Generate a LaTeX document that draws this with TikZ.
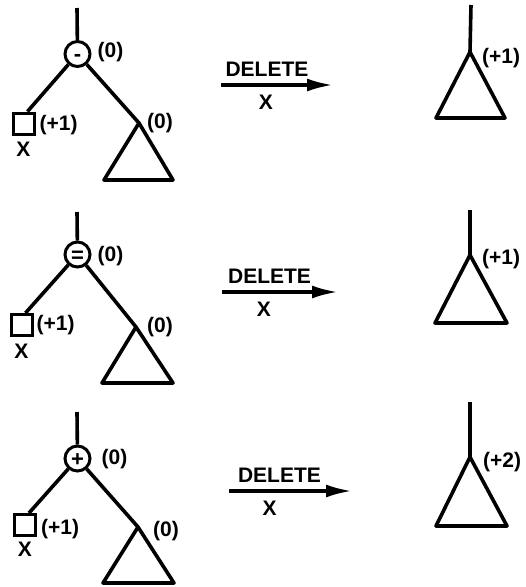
\documentclass[tikz,border=0pt]{standalone}
\usepackage{fontspec}
\setmainfont{Liberation Sans}
\usepackage{tikz}
\usetikzlibrary{positioning, arrows.meta}

\begin{document}
\begin{tikzpicture}[
    x=1pt, y=-1pt,
    node distance=4pt,
    edge/.style={line width=3.6pt},
    subtree/.style={line width=3.6pt, line join=round},
    balnode/.style={circle, draw, line width=3pt, minimum size=25pt, inner sep=0pt, text height=15.4pt, text depth=0pt, font=\fontsize{22}{22}\selectfont\bfseries},
    leaf/.style={rectangle, draw, line width=3pt, minimum size=21pt, inner sep=0pt},
    lbl/.style={inner sep=1pt, font=\fontsize{21}{23}\selectfont\bfseries},
    arrow/.style={line width=3.4pt, -{Latex[length=26pt, width=13pt]}}
]
\useasboundingbox (0,0) rectangle (526,587);

% Case 1: root leaning left
\coordinate (top1) at (77,8);
\node (r1) [balnode] at (77.5,54) {-};
\node (x1) [leaf] at (23.5,123.5) {};
\coordinate (t1) at (139,123);
\draw [edge] (top1) -- (r1);
\draw [edge] (r1) -- ([xshift=4pt]x1.north);
\draw [edge] (r1) -- (t1);
\draw [subtree] (t1) -- ++(-35,57) -- ++(69,0) -- cycle;
\node [lbl, right=5pt of r1, yshift=2pt] {(0)};
\node [lbl, right=3pt of x1, yshift=-2pt] {(+1)};
\node [lbl, below=5pt of x1] {X};
\node [lbl, right=7pt of t1] {(0)};
% after deleting
\coordinate (rtop1) at (471,5);
\coordinate (rt1) at (470,52);
\draw [edge] (rtop1) -- (rt1);
\draw [subtree] (rt1) -- ++(-34,66) -- ++(69,0) -- cycle;
\node [lbl, right=11pt of rt1, yshift=-6pt] {(+1)};
% Arrow
\coordinate (a1) at (221,85);
\coordinate (b1) at (333,85);
\draw [arrow] (a1) -- node [lbl, above=6pt, pos=0.41] {DELETE} node [lbl, below=7pt, pos=0.40] {X} (b1);

% Case 2: root balanced
\coordinate (top2) at (77,212);
\node (r2) [balnode] at (77.5,254.5) {=};
\node (x2) [leaf] at (21.5,325) {};
\coordinate (t2) at (136,327);
\draw [edge] (top2) -- (r2);
\draw [edge] (r2) -- ([xshift=4pt]x2.north);
\draw [edge] (r2) -- (t2);
\draw [subtree] (t2) -- ++(-34,56) -- ++(71,0) -- cycle;
\node [lbl, right=5pt of r2, yshift=-2pt] {(0)};
\node [lbl, right=2pt of x2] {(+1)};
\node [lbl, below=6pt of x2] {X};
\node [lbl, right=10pt of t2] {(0)};
% after deleting
\coordinate (rtop2) at (470,210);
\coordinate (rt2) at (470,255);
\draw [edge] (rtop2) -- (rt2);
\draw [subtree] (rt2) -- ++(-35,68) -- ++(72,0) -- cycle;
\node [lbl, right=11pt of rt2, yshift=-4pt] {(+1)};
% Arrow
\coordinate (a2) at (222,292);
\coordinate (b2) at (338,292);
\draw [arrow] (a2) -- node [lbl, above=6pt, pos=0.41] {DELETE} node [lbl, below=7pt, pos=0.36] {X} (b2);

% Case 3: root leaning right
\coordinate (top3) at (77,412);
\node (r3) [balnode] at (77.5,458.5) {+};
\node (x3) [leaf] at (25,525) {};
\coordinate (t3) at (138,527);
\draw [edge] (top3) -- (r3);
\draw [edge] (r3) -- ([xshift=4pt]x3.north);
\draw [edge] (r3) -- (t3);
\draw [subtree] (t3) -- ++(-35,56) -- ++(71,0) -- cycle;
\node [lbl, right=9pt of r3, yshift=-1pt] {(0)};
\node [lbl, right=3pt of x3, yshift=-4pt] {(+1)};
\node [lbl, below=4pt of x3] {X};
\node [lbl, right=14pt of t3, yshift=-4pt] {(0)};
% after deleting
\coordinate (rtop3) at (470,402);
\coordinate (rt3) at (470,457);
\draw [edge] (rtop3) -- (rt3);
\draw [subtree] (rt3) -- ++(-34,69) -- ++(71,0) -- cycle;
\node [lbl, right=12pt of rt3, yshift=-5pt] {(+2)};
% Arrow
\coordinate (a3) at (229,491);
\coordinate (b3) at (352,491);
\draw [arrow] (a3) -- node [lbl, above=6pt, pos=0.41] {DELETE} node [lbl, below=7pt, pos=0.33] {X} (b3);
\end{tikzpicture}
\end{document}
